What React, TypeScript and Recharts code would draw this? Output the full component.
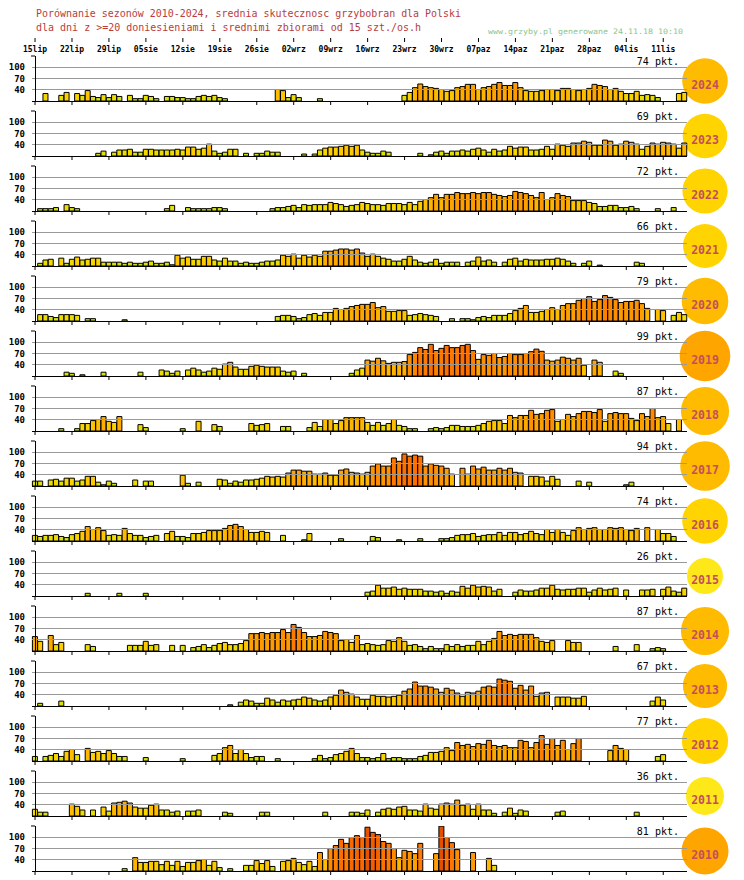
import { BarChart, Bar, XAxis, YAxis, Cell, ReferenceLine } from "recharts"

const WEEK_LABELS = ["15lip", "22lip", "29lip", "05sie", "12sie", "19sie", "26sie", "02wrz", "09wrz", "16wrz", "23wrz", "30wrz", "07paz", "14paz", "21paz", "28paz", "04lis", "11lis"]
const YEARS = [2024, 2023, 2022, 2021, 2020, 2019, 2018, 2017, 2016, 2015, 2014, 2013, 2012, 2011, 2010]
const POINTS = [74, 69, 72, 66, 79, 99, 87, 94, 74, 26, 87, 67, 77, 36, 81]
const GRID_VALUES = [40, 70, 100]

// daily values, first entry is the day before 15lip, 0 = no bar
const S2024 = [0,
  0, 29, 0, 0, 24, 32, 0, 29, 24, 37,
  21, 18, 26, 18, 26, 21, 0, 24, 15, 15,
  24, 21, 15, 0, 21, 21, 18, 18, 15, 15,
  21, 24, 21, 24, 18, 15, 0, 0, 0, 0,
  0, 0, 0, 0, 0, 40, 37, 18, 26, 18,
  0, 0, 0, 15, 0, 0, 0, 0, 0, 0,
  0, 0, 0, 0, 0, 0, 0, 0, 0, 24,
  32, 45, 55, 48, 45, 43, 40, 35, 37, 45,
  48, 54, 54, 40, 45, 48, 54, 59, 51, 51,
  59, 45, 37, 35, 35, 37, 40, 40, 37, 43,
  43, 40, 37, 40, 43, 54, 51, 48, 40, 43,
  35, 29, 29, 35, 24, 26, 24, 18, 0, 0,
  0, 29, 32]
const S2023 = [0,
  0, 0, 0, 0, 0, 0, 0, 0, 0, 0,
  0, 16, 22, 0, 19, 25, 25, 27, 19, 19,
  27, 27, 25, 25, 25, 25, 27, 25, 33, 33,
  27, 30, 41, 22, 16, 19, 27, 27, 0, 16,
  0, 16, 16, 22, 19, 19, 0, 0, 0, 0,
  14, 0, 14, 25, 30, 33, 33, 35, 38, 35,
  38, 25, 19, 16, 16, 22, 19, 0, 0, 0,
  0, 0, 16, 0, 12, 19, 22, 16, 22, 22,
  25, 22, 27, 30, 25, 19, 27, 22, 25, 35,
  30, 33, 33, 25, 25, 27, 35, 27, 41, 38,
  35, 44, 44, 49, 46, 38, 38, 52, 49, 38,
  41, 49, 46, 41, 27, 35, 44, 41, 46, 44,
  41, 30, 44]
const S2022 = [0,
  15, 15, 15, 18, 0, 26, 18, 15, 0, 0,
  0, 0, 0, 0, 0, 0, 0, 0, 0, 0,
  0, 0, 0, 0, 15, 24, 0, 0, 18, 15,
  15, 15, 15, 18, 18, 15, 0, 0, 0, 0,
  0, 0, 0, 0, 15, 18, 18, 21, 24, 18,
  26, 24, 26, 26, 26, 32, 29, 26, 21, 24,
  26, 32, 29, 26, 26, 24, 29, 29, 29, 26,
  32, 26, 35, 40, 45, 54, 45, 54, 54, 59,
  56, 56, 59, 56, 59, 59, 54, 51, 48, 51,
  62, 59, 56, 51, 45, 59, 40, 45, 56, 51,
  48, 37, 37, 37, 32, 29, 21, 21, 24, 24,
  18, 18, 21, 15, 0, 0, 0, 15, 0, 0,
  18, 0, 0]
const S2021 = [0,
  16, 25, 27, 0, 30, 16, 27, 33, 25, 27,
  30, 30, 19, 19, 19, 19, 16, 19, 16, 16,
  19, 22, 16, 16, 19, 12, 38, 30, 33, 27,
  27, 35, 35, 25, 22, 30, 22, 22, 16, 19,
  16, 16, 19, 22, 22, 25, 38, 35, 41, 30,
  38, 33, 38, 35, 49, 49, 52, 55, 55, 52,
  55, 44, 35, 41, 35, 30, 27, 22, 22, 27,
  35, 25, 19, 16, 19, 27, 16, 19, 19, 19,
  0, 19, 22, 33, 22, 25, 19, 0, 19, 27,
  30, 22, 27, 25, 25, 25, 27, 27, 30, 27,
  22, 16, 0, 16, 22, 0, 11, 0, 0, 0,
  0, 0, 0, 19, 16, 0, 0, 0, 0, 0,
  0, 0, 0]
const S2020 = [0,
  26, 26, 21, 18, 26, 26, 26, 24, 0, 15,
  15, 0, 0, 0, 0, 0, 12, 0, 0, 0,
  0, 0, 0, 0, 0, 0, 0, 0, 0, 0,
  0, 0, 0, 0, 0, 0, 0, 0, 0, 0,
  0, 0, 0, 0, 0, 21, 24, 24, 21, 15,
  18, 26, 29, 24, 32, 32, 43, 40, 43, 48,
  51, 54, 54, 59, 45, 48, 35, 35, 37, 37,
  24, 26, 29, 26, 24, 21, 0, 0, 15, 0,
  15, 15, 12, 18, 21, 18, 24, 24, 24, 29,
  37, 43, 51, 32, 32, 35, 40, 45, 40, 51,
  56, 56, 65, 70, 75, 62, 67, 78, 73, 67,
  59, 62, 62, 65, 56, 43, 0, 40, 37, 0,
  24, 32, 26]
const S2019 = [0,
  0, 0, 0, 0, 0, 19, 16, 0, 12, 0,
  0, 0, 19, 0, 0, 0, 0, 0, 0, 19,
  0, 0, 0, 25, 22, 16, 22, 0, 25, 30,
  25, 19, 22, 30, 27, 41, 46, 33, 27, 27,
  35, 38, 35, 33, 33, 33, 22, 19, 22, 0,
  16, 0, 0, 0, 0, 0, 0, 0, 0, 16,
  25, 30, 52, 49, 57, 50, 43, 46, 46, 48,
  67, 73, 86, 81, 95, 78, 84, 92, 86, 86,
  92, 95, 78, 54, 67, 65, 70, 59, 62, 70,
  67, 67, 70, 75, 82, 76, 52, 49, 52, 60,
  57, 52, 57, 38, 0, 52, 46, 0, 0, 22,
  16, 0, 0, 0, 0, 0, 0, 0, 0, 0,
  0, 0, 0]
const S2018 = [0,
  0, 0, 0, 0, 15, 0, 0, 15, 29, 29,
  37, 40, 48, 35, 32, 48, 0, 0, 0, 26,
  18, 0, 0, 0, 0, 0, 0, 15, 0, 0,
  35, 0, 0, 26, 21, 0, 0, 0, 0, 0,
  29, 24, 26, 29, 0, 0, 21, 21, 0, 0,
  0, 18, 32, 21, 40, 40, 29, 37, 45, 45,
  45, 45, 32, 24, 32, 24, 29, 40, 24, 21,
  15, 15, 0, 0, 15, 18, 15, 18, 24, 24,
  21, 21, 21, 24, 29, 35, 37, 37, 29, 51,
  45, 51, 51, 65, 54, 56, 65, 67, 35, 40,
  54, 48, 56, 62, 62, 59, 67, 35, 56, 59,
  56, 56, 43, 37, 56, 48, 70, 45, 48, 29,
  0, 40, 0]
const S2017 = [22,
  22, 0, 25, 27, 22, 30, 30, 22, 25, 35,
  35, 19, 12, 22, 16, 0, 0, 0, 25, 0,
  22, 22, 0, 0, 0, 0, 0, 38, 16, 0,
  19, 0, 0, 0, 27, 25, 16, 22, 19, 25,
  25, 27, 30, 35, 33, 35, 33, 44, 52, 52,
  49, 49, 41, 41, 44, 38, 38, 52, 55, 46,
  44, 41, 46, 63, 69, 63, 63, 85, 76, 96,
  90, 93, 90, 63, 69, 65, 63, 57, 41, 0,
  57, 41, 63, 55, 60, 52, 52, 57, 52, 57,
  46, 44, 0, 35, 35, 33, 22, 35, 27, 0,
  0, 0, 22, 0, 19, 0, 0, 0, 0, 0,
  0, 12, 19, 0, 0, 0, 0, 0, 0, 0,
  0, 0, 0]
const S2016 = [24,
  21, 24, 24, 26, 21, 18, 26, 29, 35, 48,
  40, 45, 37, 24, 26, 24, 43, 29, 24, 24,
  18, 21, 24, 0, 29, 35, 21, 21, 18, 29,
  29, 32, 37, 37, 37, 43, 51, 54, 48, 40,
  32, 32, 35, 32, 0, 0, 24, 0, 0, 0,
  12, 29, 0, 0, 0, 0, 0, 15, 0, 0,
  0, 0, 0, 21, 18, 0, 0, 0, 12, 0,
  0, 0, 15, 0, 0, 0, 15, 15, 18, 24,
  26, 26, 29, 21, 24, 26, 26, 32, 24, 32,
  32, 26, 29, 35, 29, 26, 40, 32, 40, 32,
  24, 37, 45, 40, 43, 45, 40, 40, 45, 43,
  45, 40, 37, 43, 0, 45, 0, 40, 29, 29,
  21, 0, 0]
const S2015 = [0,
  0, 0, 0, 0, 0, 0, 0, 0, 0, 16,
  0, 0, 0, 0, 0, 16, 0, 0, 0, 0,
  16, 0, 0, 0, 0, 0, 0, 0, 0, 0,
  0, 0, 0, 0, 0, 0, 0, 0, 0, 0,
  0, 0, 0, 0, 0, 0, 0, 0, 0, 0,
  0, 0, 0, 0, 0, 0, 0, 0, 0, 0,
  0, 0, 19, 22, 38, 30, 30, 33, 27, 30,
  27, 27, 27, 22, 22, 19, 22, 16, 22, 19,
  35, 30, 38, 33, 35, 33, 22, 27, 0, 0,
  19, 25, 22, 22, 25, 30, 30, 38, 27, 25,
  27, 27, 30, 30, 19, 25, 30, 25, 27, 30,
  0, 25, 0, 0, 25, 25, 27, 0, 27, 33,
  22, 19, 30]
const S2014 = [48,
  35, 0, 51, 26, 32, 0, 0, 0, 0, 26,
  21, 0, 0, 0, 0, 0, 0, 24, 24, 24,
  35, 24, 26, 0, 0, 24, 0, 24, 0, 18,
  21, 26, 18, 24, 29, 32, 26, 26, 29, 37,
  56, 56, 59, 56, 59, 59, 67, 59, 81, 73,
  59, 48, 48, 51, 62, 59, 56, 37, 40, 32,
  51, 26, 29, 26, 24, 26, 37, 35, 45, 35,
  24, 26, 21, 15, 21, 15, 15, 26, 21, 26,
  21, 24, 24, 35, 26, 35, 43, 62, 51, 54,
  51, 54, 54, 54, 45, 35, 32, 37, 0, 0,
  37, 32, 32, 0, 0, 0, 0, 0, 0, 21,
  0, 0, 0, 26, 0, 0, 15, 18, 15, 0,
  0, 0, 0]
const S2013 = [0,
  16, 0, 0, 0, 22, 0, 0, 0, 0, 0,
  0, 0, 0, 0, 0, 0, 0, 0, 0, 0,
  0, 0, 0, 0, 0, 0, 0, 0, 0, 0,
  0, 0, 0, 0, 0, 0, 12, 0, 19, 25,
  22, 16, 16, 30, 25, 19, 25, 22, 25, 27,
  33, 30, 25, 22, 25, 33, 38, 52, 46, 41,
  33, 27, 27, 38, 35, 35, 33, 35, 38, 49,
  55, 74, 63, 63, 60, 55, 46, 57, 52, 44,
  35, 46, 44, 49, 60, 63, 60, 82, 79, 76,
  57, 65, 52, 63, 35, 44, 46, 0, 33, 33,
  33, 30, 30, 35, 0, 0, 0, 0, 0, 0,
  0, 0, 0, 0, 0, 0, 22, 33, 25, 0,
  0, 0, 0]
const S2012 = [21,
  0, 21, 24, 29, 21, 35, 40, 26, 0, 43,
  32, 35, 29, 37, 29, 21, 21, 0, 0, 0,
  18, 0, 0, 0, 0, 0, 0, 15, 0, 0,
  0, 0, 0, 24, 29, 45, 51, 29, 40, 29,
  18, 21, 21, 0, 0, 15, 0, 0, 0, 0,
  0, 0, 15, 24, 15, 18, 26, 29, 35, 43,
  29, 18, 18, 15, 18, 29, 15, 18, 18, 15,
  15, 15, 21, 24, 32, 32, 35, 45, 37, 59,
  51, 54, 48, 56, 54, 65, 51, 48, 51, 45,
  45, 65, 62, 45, 59, 78, 54, 70, 51, 65,
  40, 56, 70, 0, 0, 0, 0, 0, 37, 51,
  43, 40, 0, 0, 0, 0, 0, 21, 26, 0,
  0, 0, 0]
const S2011 = [27,
  19, 19, 0, 0, 0, 0, 41, 35, 25, 0,
  25, 0, 33, 22, 44, 46, 49, 44, 33, 30,
  30, 38, 41, 25, 25, 19, 22, 0, 22, 22,
  25, 0, 0, 0, 0, 19, 16, 0, 0, 0,
  0, 0, 19, 19, 0, 0, 0, 0, 0, 0,
  0, 0, 0, 0, 19, 0, 0, 0, 0, 19,
  19, 16, 25, 0, 19, 27, 30, 27, 33, 35,
  25, 25, 22, 41, 30, 27, 41, 44, 41, 52,
  38, 41, 27, 41, 25, 25, 16, 0, 19, 30,
  16, 25, 22, 0, 0, 0, 0, 0, 19, 22,
  0, 0, 0, 0, 0, 0, 0, 0, 0, 0,
  0, 0, 0, 19, 0, 0, 0, 0, 0, 0,
  0, 0, 0]
const S2010 = [0,
  0, 0, 0, 0, 0, 0, 0, 0, 0, 0,
  0, 0, 0, 0, 0, 0, 15, 0, 45, 32,
  32, 35, 35, 26, 35, 24, 35, 21, 32, 32,
  37, 40, 24, 35, 18, 0, 15, 0, 0, 24,
  24, 37, 29, 37, 21, 0, 35, 37, 43, 32,
  26, 35, 21, 59, 40, 70, 78, 95, 84, 100,
  105, 100, 128, 114, 108, 89, 84, 70, 45, 65,
  62, 56, 84, 0, 0, 56, 131, 100, 86, 67,
  0, 0, 59, 0, 0, 43, 24, 0, 0, 0,
  0, 0, 0, 0, 0, 0, 0, 0, 0, 0,
  0, 0, 0, 0, 0, 0, 0, 0, 0, 0,
  0, 0, 0, 0, 0, 0, 0, 0, 0, 0,
  0, 0, 0]

const SEASONS = [S2024, S2023, S2022, S2021, S2020, S2019, S2018, S2017, S2016, S2015, S2014, S2013, S2012, S2011, S2010]

const CIRCLE_FILL = ["#ffbb00", "#ffd400", "#ffd400", "#ffd400", "#ffbb00", "#ffa500", "#ffbb00", "#ffbb00", "#ffd400", "#ffe81a", "#ffbb00", "#ffbb00", "#ffd400", "#ffe81a", "#ffa500"]

const FONT = "'DejaVu Sans Mono', 'Liberation Mono', monospace"
const WEEK_TICKS = WEEK_LABELS.map((_, i) => i * 7)
// y range picked so that 30 units = 11 px and grid lines land on pixel centres
const Y_MIN = 8.64
const Y_MAX = 131.36
const AXIS_W = 32.4
const RIGHT = 57
const PANEL_TOP = 56
const PANEL_STEP = 55
const CHART_MARGIN = { top: 2, right: RIGHT, bottom: 4, left: 0 }

const STOPS: [number, string][] = [
  [12, "#c4dc1c"], [20, "#d8e20c"], [26, "#efdc00"], [32, "#ffd000"], [40, "#ffbd00"],
  [50, "#ffaa00"], [62, "#ff9600"], [75, "#ff8200"], [90, "#ff7100"], [110, "#f56000"], [135, "#e04c00"],
]

const hexRgb = (h: string) => [1, 3, 5].map((i) => parseInt(h.slice(i, i + 2), 16))

function barColor(v: number) {
  if (v <= STOPS[0][0]) return STOPS[0][1]
  for (let i = 1; i < STOPS.length; i++) {
    if (v <= STOPS[i][0]) {
      const t = (v - STOPS[i - 1][0]) / (STOPS[i][0] - STOPS[i - 1][0])
      const a = hexRgb(STOPS[i - 1][1])
      const b = hexRgb(STOPS[i][1])
      return `rgb(${a.map((x, k) => Math.round(x + (b[k] - x) * t)).join(",")})`
    }
  }
  return STOPS[STOPS.length - 1][1]
}

function HeaderTick(props: any) {
  const { x, y, payload } = props
  return (
    <g>
      <line x1={x} x2={x} y1={y} y2={y + 4} stroke="#000" />
      <text x={x} y={y + 13.5} textAnchor="middle" fontFamily={FONT} fontWeight="bold" fontSize={8} fill="#000">
        {WEEK_LABELS[payload.value / 7]}
      </text>
    </g>
  )
}

function PanelTick(props: any) {
  const { x, y } = props
  return <line x1={x} x2={x} y1={y} y2={y + 4} stroke="#000" />
}

function YTick(props: any) {
  const { y, payload } = props
  if (payload.value === Y_MAX) return <line x1={31} x2={35} y1={y} y2={y} stroke="#000" />
  return (
    <text x={25} y={y + 3} textAnchor="end" fontFamily={FONT} fontWeight="bold" fontSize={9} fill="#000">
      {payload.value}
    </text>
  )
}

function Panel({ idx }: { idx: number }) {
  const data = SEASONS[idx].map((v, d) => ({ d, v: v > 0 ? v : null }))
  const top = PANEL_TOP + idx * PANEL_STEP
  const pts = POINTS[idx]
  return (
    <>
      <svg width={744} height={PANEL_STEP} style={{ position: "absolute", left: 0, top, overflow: "visible" }}>
        <circle cx={705} cy={25} r={15.4 + pts * 0.1} fill={CIRCLE_FILL[idx]} />
      </svg>
      <div style={{ position: "absolute", left: 0, top: top - 2 }}>
        <BarChart width={744} height={57} data={data} margin={CHART_MARGIN} barCategoryGap={0} barGap={0}>
          <XAxis dataKey="d" type="category" ticks={WEEK_TICKS} interval={0} axisLine={false} tickLine={false} tickSize={0} tickMargin={0} height={6} tick={<PanelTick />} />
          <YAxis type="number" domain={[Y_MIN, Y_MAX]} ticks={[...GRID_VALUES, Y_MAX]} interval={0} allowDataOverflow width={AXIS_W} axisLine={false} tickLine={false} tick={<YTick />} />
          {GRID_VALUES.map((g) => (
            <ReferenceLine key={g} y={g} stroke="#999" strokeWidth={1} shapeRendering="crispEdges" />
          ))}
          <Bar dataKey="v" isAnimationActive={false} stroke="#000" strokeWidth={1}>
            {data.map((e) => (
              <Cell key={e.d} fill={e.v ? barColor(e.v) : "none"} />
            ))}
          </Bar>
          <ReferenceLine y={Y_MIN} stroke="#000" strokeWidth={1} shapeRendering="crispEdges" />
          <ReferenceLine x={0} stroke="#000" strokeWidth={1} shapeRendering="crispEdges" />
        </BarChart>
      </div>
      <svg width={744} height={PANEL_STEP} style={{ position: "absolute", left: 0, top, overflow: "visible", pointerEvents: "none" }}>
        <text x={679} y={9} textAnchor="end" fontFamily={FONT} fontSize={10} fill="#000">{`${pts} pkt.`}</text>
        <text x={705} y={33} textAnchor="middle" fontFamily={FONT} fontWeight="bold" fontSize={11.5} fill="#c24f5e">{YEARS[idx]}</text>
      </svg>
    </>
  )
}

export default function App() {
  const headerData = SEASONS[0].map((_, d) => ({ d, v: null }))
  return (
    <div style={{ position: "relative", width: 744, height: 880, background: "#fff", overflow: "hidden" }}>
      <style>{"body{margin:0}"}</style>
      <svg width={744} height={40} style={{ position: "absolute", left: 0, top: 0 }}>
        <text x={36} y={17} fontFamily={FONT} fontSize={10.5} fill="#b83c3c" textLength={425} lengthAdjust="spacingAndGlyphs">
          Porównanie sezonów 2010-2024, srednia skutecznosc grzybobran dla Polski
        </text>
        <text x={36} y={31} fontFamily={FONT} fontSize={10.5} fill="#b83c3c" textLength={385} lengthAdjust="spacingAndGlyphs">
          dla dni z &gt;=20 doniesieniami i srednimi zbiorami od 15 szt./os.h
        </text>
        <text x={488} y={33.5} fontFamily={FONT} fontSize={7.5} fill="#8cc48c" textLength={195} lengthAdjust="spacingAndGlyphs">
          www.grzyby.pl generowane 24.11.18 10:10
        </text>
      </svg>
      <div style={{ position: "absolute", left: 0, top: 28 }}>
        <BarChart width={744} height={32} data={headerData} margin={{ top: 2, right: RIGHT, bottom: 0, left: AXIS_W }}>
          <XAxis dataKey="d" type="category" ticks={WEEK_TICKS} interval={0} axisLine={false} tickLine={false} tickSize={0} tickMargin={0} height={22} tick={<HeaderTick />} />
          <YAxis hide type="number" domain={[0, 1]} />
          <Bar dataKey="v" isAnimationActive={false} />
          <ReferenceLine y={0} stroke="#000" strokeWidth={1} shapeRendering="crispEdges" />
        </BarChart>
      </div>
      {YEARS.map((_, i) => (
        <Panel key={i} idx={i} />
      ))}
    </div>
  )
}
